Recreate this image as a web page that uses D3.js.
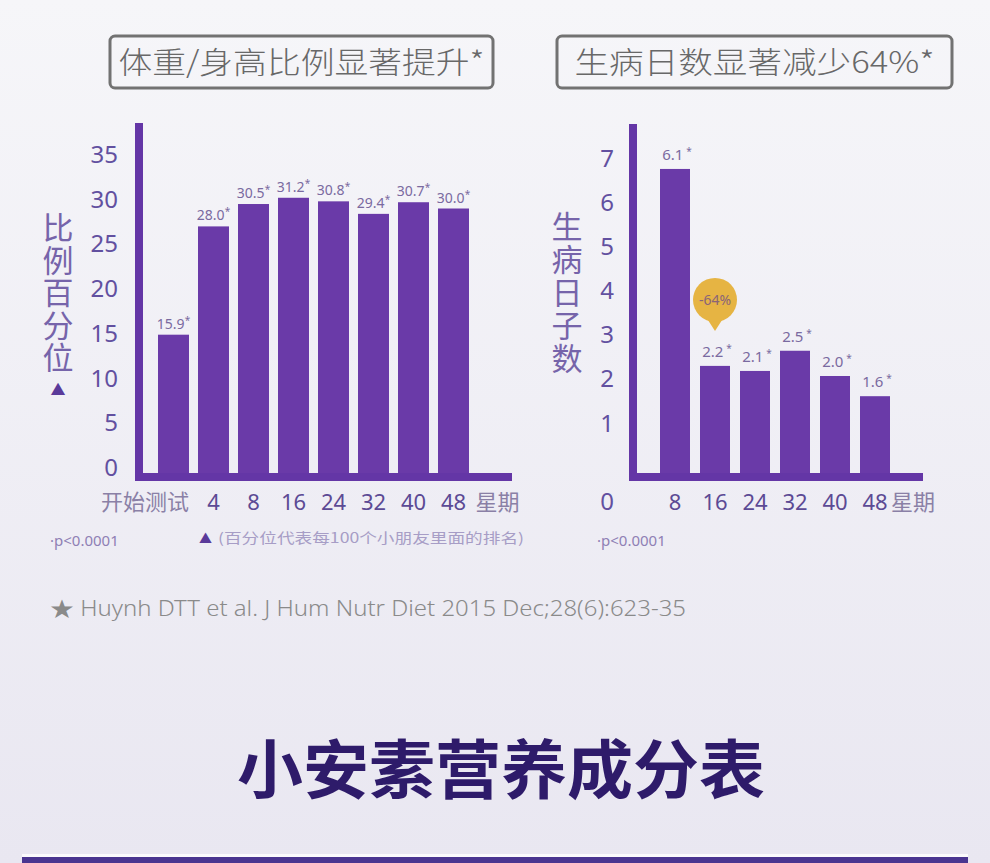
<!DOCTYPE html>
<html><head><meta charset="utf-8">
<script src="https://cdn.jsdelivr.net/npm/d3@7/dist/d3.min.js"></script>
<style>
html,body{margin:0;padding:0;background:#f2f1f6;}
svg{display:block;}
text{font-family:"Noto Sans","Noto Sans CJK SC",sans-serif;}
.cjk{font-family:"Noto Sans CJK SC","Noto Sans",sans-serif;}
.vert{writing-mode:vertical-rl;text-orientation:upright;}
</style></head>
<body>
<script>
// ---------- data ----------
const leftCategories = ["开始测试","4","8","16","24","32","40","48"];
const leftValues = [15.9, 28.0, 30.5, 31.2, 30.8, 29.4, 30.7, 30.0];
const leftTicks = [0,5,10,15,20,25,30,35];
const rightCategories = ["8","16","24","32","40","48"];
const rightValues = [6.1, 2.2, 2.1, 2.5, 2.0, 1.6];
const rightTicks = [0,1,2,3,4,5,6,7];
const leftTitle = "体重/身高比例显著提升*";
const rightTitle = "生病日数显著减少64%*";
const leftYLabel = "比例百分位";
const rightYLabel = "生病日子数";
const unitLabel = "星期";
const badgeText = "-64%";
const pNote = "·p<0.0001";
const triNote = "(百分位代表每100个小朋友里面的排名)";
const citation = "★ Huynh DTT et al. J Hum Nutr Diet 2015 Dec;28(6):623-35";
const mainTitle = "小安素营养成分表";

// ---------- setup ----------
const W = 990, H = 863;
const svg = d3.select("body").append("svg").attr("width", W).attr("height", H);
const defs = svg.append("defs");
const bg = defs.append("linearGradient").attr("id","bg").attr("x1",0).attr("y1",0).attr("x2",0).attr("y2",1);
bg.append("stop").attr("offset","0%").attr("stop-color","#f6f6f9");
bg.append("stop").attr("offset","100%").attr("stop-color","#e9e7f1");
svg.append("rect").attr("width",W).attr("height",H).attr("fill","url(#bg)");

const BAR = "#6a3aa8";
const AXIS = "#6436a6";
const TICK = "#6250a0";
const VAL = "#7a6aa0";

// title boxes
function titleBox(x, w, txt, tl) {
  svg.append("rect").attr("x", x).attr("y", 36).attr("width", w).attr("height", 52)
    .attr("rx", 5).attr("fill", "none").attr("stroke", "#727272").attr("stroke-width", 3);
  svg.append("text").attr("class","cjk").attr("x", x + w/2).attr("y", 73)
    .attr("text-anchor","middle").attr("font-size", 30).attr("font-weight",300).attr("fill", "#686868")
    .attr("textLength", tl).attr("lengthAdjust","spacingAndGlyphs").text(txt);
}
titleBox(110, 383, leftTitle, 366);
titleBox(557, 395, rightTitle, 360);

// ---------- left chart ----------
const xL = d3.scaleBand().domain(leftCategories).range([153.5, 473.5]).paddingInner(0.225).paddingOuter(0.1125);
const yL = d3.scaleLinear().domain([0, 35]).range([477, 477 - 35 * 8.95]);
const gL = svg.append("g");

gL.selectAll("rect.bar").data(leftValues).join("rect").attr("class","bar")
  .attr("x", (d,i) => xL(leftCategories[i])).attr("width", xL.bandwidth())
  .attr("y", d => yL(d)).attr("height", d => yL(0) - yL(d)).attr("fill", BAR);

gL.append("line").attr("x1",139).attr("x2",139).attr("y1",123).attr("y2",481).attr("stroke",AXIS).attr("stroke-width",8);
gL.append("line").attr("x1",135).attr("x2",512).attr("y1",477).attr("y2",477).attr("stroke",AXIS).attr("stroke-width",8);

const axL = gL.append("g").attr("transform","translate(139,0)")
  .call(d3.axisLeft(yL).tickValues(leftTicks).tickSize(0).tickPadding(21).tickFormat(d3.format("d")));
axL.select(".domain").remove();
axL.selectAll("text").attr("font-size",24).attr("fill",TICK).attr("dy","0.32em")
  .attr("transform","translate(0,-9)").style("font-family","'Noto Sans',sans-serif");

const vl = gL.selectAll("text.val").data(leftValues).join("text").attr("class","val")
  .attr("x", (d,i) => xL(leftCategories[i]) + xL.bandwidth()/2)
  .attr("y", d => yL(d) - 6).attr("text-anchor","middle").attr("font-size",14).attr("fill",VAL);
vl.append("tspan").text(d => d.toFixed(1));
vl.append("tspan").attr("font-size",10).attr("dy",-5).text("*");

gL.selectAll("text.xl").data(leftCategories).join("text").attr("class","xl")
  .attr("x", (d,i) => i === 0 ? xL(d) + xL.bandwidth() : xL(d) + xL.bandwidth()/2)
  .attr("y", 510).attr("text-anchor", (d,i) => i === 0 ? "end" : "middle")
  .attr("font-size", 22).attr("fill", (d,i) => i === 0 ? "#8a80a6" : "#5c4a94")
  .style("font-family", (d,i) => i === 0 ? "'Noto Sans CJK SC',sans-serif" : "'Noto Sans',sans-serif")
  .text(d => d);
gL.append("text").attr("class","cjk").attr("x", xL.range()[1] + 24).attr("y", 510)
  .attr("text-anchor","middle").attr("font-size",22).attr("fill","#8a80a6").text(unitLabel);

// vertical y label (single vertical text run)
const ylL = gL.append("text").attr("class","cjk vert").attr("x",58).attr("y",212)
  .attr("font-size",31).attr("letter-spacing",1.5).attr("fill","#7664aa");
ylL.append("tspan").text(leftYLabel);
ylL.append("tspan").attr("font-size",15).attr("dy",7).attr("fill","#5a3a9a").text("▲");

// ---------- right chart ----------
const xR = d3.scaleBand().domain(rightCategories).range([655, 895]).paddingInner(0.25).paddingOuter(0.125);
const yR = d3.scaleLinear().domain([0, 7]).range([477, 477 - 7 * 50.5]);
const yRt = d3.scaleLinear().domain([1, 7]).range([423, 158]);
const gR = svg.append("g");

gR.selectAll("rect.bar").data(rightValues).join("rect").attr("class","bar")
  .attr("x", (d,i) => xR(rightCategories[i])).attr("width", xR.bandwidth())
  .attr("y", d => yR(d)).attr("height", d => yR(0) - yR(d)).attr("fill", BAR);

gR.append("line").attr("x1",633).attr("x2",633).attr("y1",124).attr("y2",481).attr("stroke",AXIS).attr("stroke-width",8);
gR.append("line").attr("x1",629).attr("x2",923).attr("y1",477).attr("y2",477).attr("stroke",AXIS).attr("stroke-width",8);

gR.selectAll("text.tk").data(rightTicks).join("text").attr("class","tk")
  .attr("x", 607).attr("y", d => d === 0 ? 510 : yRt(d) + 8.5)
  .attr("text-anchor","middle").attr("font-size",24).attr("fill",TICK).text(d => d);

const vr = gR.selectAll("text.val").data(rightValues).join("text").attr("class","val")
  .attr("x", (d,i) => xR(rightCategories[i]) + xR.bandwidth()/2 + 2)
  .attr("y", d => yR(d) - 9).attr("text-anchor","middle").attr("font-size",15).attr("fill",VAL);
vr.append("tspan").text(d => d.toFixed(1));
vr.append("tspan").attr("font-size",10).attr("dx",3).attr("dy",-5).text("*");

gR.selectAll("text.xl").data(rightCategories).join("text").attr("class","xl")
  .attr("x", d => xR(d) + xR.bandwidth()/2).attr("y", 510).attr("text-anchor","middle")
  .attr("font-size",22).attr("fill","#5c4a94").text(d => d);
gR.append("text").attr("class","cjk").attr("x", xR.range()[1] + 18).attr("y", 510)
  .attr("text-anchor","middle").attr("font-size",22).attr("fill","#8a80a6").text(unitLabel);

gR.append("text").attr("class","cjk vert").attr("x",567).attr("y",211)
  .attr("font-size",31).attr("letter-spacing",2).attr("fill","#7664aa").text(rightYLabel);

// badge on second bar
const bx = xR(rightCategories[1]) + xR.bandwidth()/2;
const by = yR(rightValues[1]) - 66;
gR.append("path").attr("d", `M${bx-9},${by+17} L${bx+9},${by+17} L${bx},${by+31} Z`).attr("fill","#e6b443");
gR.append("circle").attr("cx", bx).attr("cy", by).attr("r", 22).attr("fill","#e6b443");
gR.append("text").attr("x", bx).attr("y", by + 5).attr("text-anchor","middle")
  .attr("font-size",14).attr("fill","#8a6478").text(badgeText);

// ---------- footnotes ----------
svg.append("text").attr("x",50).attr("y",546).attr("font-size",15).attr("fill","#8f80b4").text(pNote);
svg.append("text").attr("x",597).attr("y",546).attr("font-size",15).attr("fill","#8f80b4").text(pNote);
svg.append("text").attr("x",199).attr("y",543).attr("font-size",13).attr("fill","#5a3a9a").text("▲");
svg.append("text").attr("class","cjk").attr("x",218).attr("y",543).attr("font-size",14).attr("fill","#a79dc6")
  .attr("textLength",306).attr("lengthAdjust","spacingAndGlyphs").text(triNote);
svg.append("text").attr("x",50).attr("y",616).attr("font-size",21).attr("font-weight",300).attr("fill","#8a8a8a")
  .attr("textLength",636).attr("lengthAdjust","spacingAndGlyphs").text(citation);

// ---------- main title ----------
svg.append("text").attr("class","cjk").attr("x",501).attr("y",793).attr("text-anchor","middle")
  .attr("font-size",64).attr("font-weight",700).attr("fill","#2e1b6a")
  .attr("textLength",528).attr("lengthAdjust","spacingAndGlyphs").text(mainTitle);

svg.append("rect").attr("x",22).attr("y",854).attr("width",946).attr("height",3).attr("fill","#ffffff").attr("opacity",0.8);
svg.append("rect").attr("x",22).attr("y",857).attr("width",946).attr("height",6).attr("fill","#4a3590");
</script>
</body></html>
